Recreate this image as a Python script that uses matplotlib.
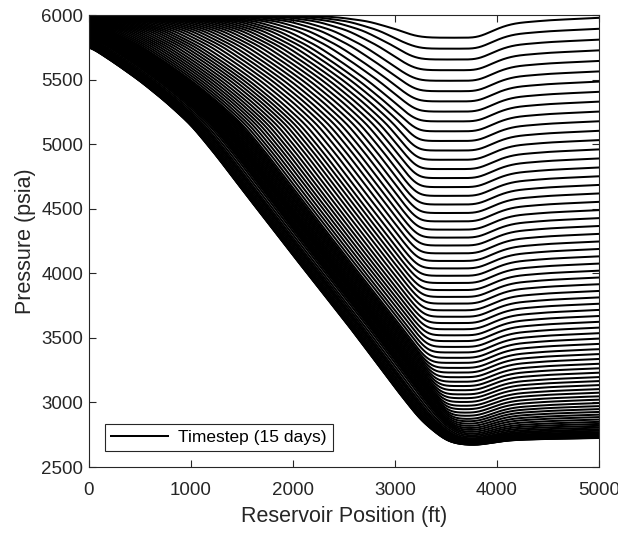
import numpy as np
import matplotlib
matplotlib.use('Agg')
import matplotlib.pyplot as plt

plt.rcParams['font.family'] = ['Liberation Sans', 'DejaVu Sans']

# last timestep profile (lower envelope), extended to the left up to the initial 6000 psia
env_x = [-2000, -1500, -1200, -900, -600, -300, 0, 250, 500, 750, 1000, 1250, 1500,
         1750, 2000, 2250, 2500, 2750, 3000, 3250, 3500, 3750, 4000, 5000, 6000]
env_p = [6000, 6000, 5995, 5982, 5950, 5880, 5760, 5630, 5490, 5330, 5150, 4910, 4650,
         4395, 4140, 3890, 3640, 3380, 3115, 2865, 2700, 2600, 2500, 1900, 1300]

# recovery on the right of the dip (1 = bottom of dip, 0 = right boundary value)
bump_x = [0, 3800, 3900, 4000, 4100, 4200, 4500, 5000]
bump_v = [1.0, 1.0, 0.8, 0.55, 0.37, 0.26, 0.13, 0.0]

# pressure at x = 5000 ft for each timestep
end_p = [5979, 5894, 5810, 5727, 5645, 5564, 5485, 5406, 5330, 5253, 5178, 5104, 5032,
         4960, 4890, 4820, 4752, 4685, 4619, 4554, 4490, 4428, 4367, 4306, 4247, 4189,
         4132, 4076, 4021, 3968, 3916, 3864, 3814, 3765, 3717, 3670, 3625, 3580, 3537,
         3495, 3454, 3413, 3375, 3337, 3300, 3265, 3231, 3197, 3166, 3135, 3104, 3076,
         3048, 3022, 2996, 2972, 2949, 2927, 2906, 2887, 2868, 2850, 2834, 2819, 2805,
         2792, 2781, 2770, 2761, 2752, 2745, 2739, 2734, 2730, 2727, 2726, 2725]

# depth of the dip below the right boundary value
dip_at = [2725, 2800, 3000, 3500, 6000]
dip_val = [55, 85, 125, 150, 155]

# where the falling part meets the flat part, by flat-part pressure
knee_at = [2600, 2670, 2750, 2900, 3300, 4000, 6000]
knee_x = [3575, 3575, 3620, 3520, 3330, 3230, 3180]

x = np.linspace(0, 5000, 1001)
env_x_a = np.array(env_x, float)
env_p_a = np.array(env_p, float)
T = 25.0

# gaussian smoothing kernel (sigma ~ 60 ft on a 5 ft grid)
kx = np.arange(-36, 37)
kern = np.exp(-0.5 * (kx / 12.0) ** 2)
kern /= kern.sum()


def smooth(p):
    padded = np.concatenate([np.full(36, p[0]), p, np.full(36, p[-1])])
    return np.convolve(padded, kern, mode='valid')


fig = plt.figure(figsize=(6.18, 5.34), dpi=100)
ax = fig.add_axes([89 / 618, 1 - 467 / 534, 510 / 618, 452 / 534])

for i, pe in enumerate(end_p):
    dip = np.interp(pe, dip_at, dip_val)
    flat = pe - dip
    knee = np.interp(flat, knee_at, knee_x)
    s = max(knee - np.interp(flat, env_p_a[::-1], env_x_a[::-1]), 0.0)
    falling = np.interp(x - s, env_x_a, env_p_a)
    right = pe - dip * np.interp(x, bump_x, bump_v)
    p = smooth(T * np.logaddexp(falling / T, right / T))
    ax.plot(x, p, color='black', lw=1.45,
            label='Timestep (15 days)' if i == 0 else None)

ax.set_xlim(0, 5000)
ax.set_ylim(2500, 6000)
ax.set_xticks(range(0, 5001, 1000))
ax.set_yticks(range(2500, 6001, 500))
ax.tick_params(direction='in', top=True, right=True, length=5, width=0.8,
               labelsize=13.5, colors='#262626', pad=4)
ax.tick_params(axis='x', pad=10.5)
for sp in ax.spines.values():
    sp.set_color('#262626')
    sp.set_linewidth(0.8)
ax.set_xlabel('Reservoir Position (ft)', fontsize=15.5, color='#262626', labelpad=5)
ax.set_ylabel('Pressure (psia)', fontsize=15.5, color='#262626', labelpad=4)

leg = ax.legend(loc='lower left', fontsize=12.5, fancybox=False, framealpha=1,
                edgecolor='#262626', handlelength=3.3, handletextpad=0.6,
                borderaxespad=0.9, borderpad=0.35)
leg.get_frame().set_linewidth(0.8)

fig.savefig('out.png', dpi=100)
